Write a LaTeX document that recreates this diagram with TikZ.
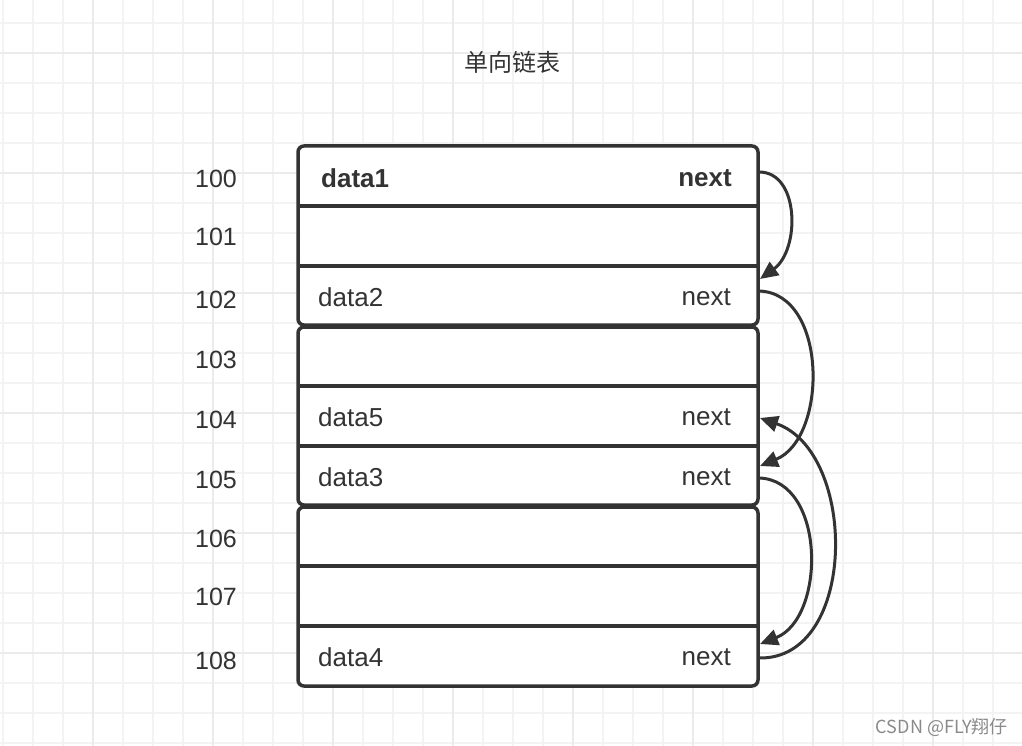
\documentclass[tikz,border=0pt]{standalone}
\usepackage{fontspec}
\setmainfont{Liberation Sans}
\newfontfamily\cjk{Noto Sans CJK SC}
\usetikzlibrary{arrows.meta,calc}
\definecolor{ink}{HTML}{333333}
\definecolor{gridminor}{HTML}{F3F3F3}
\definecolor{gridmajor}{HTML}{EBEBEB}
\definecolor{wm}{HTML}{8A8A8A}
\tikzset{
  groupbox/.style={draw=ink, line width=3.5pt, rounded corners=6pt, fill=white,
    minimum width=460pt, inner sep=0pt, outer sep=0pt},
  divider/.style={draw=ink, line width=3.5pt},
  lbl/.style={text=ink, inner sep=0pt, font=\fontsize{26}{30}\selectfont},
  addr/.style={text=ink, inner sep=0pt, font=\fontsize{25}{29}\selectfont},
  link/.style={draw=ink, line width=3pt, -{Triangle[length=18pt,width=16pt]}},
}
\begin{document}
\begin{tikzpicture}[x=1pt,y=-1pt]
\useasboundingbox (0,0) rectangle (1022,746);
\fill[white] (0,0) rectangle (1022,746);
% grid
\foreach \x in {3,33,...,1023} \draw[gridminor, line width=1.5pt] (\x,0) -- (\x,746);
\foreach \y in {23,53,...,743} \draw[gridminor, line width=1.5pt] (0,\y) -- (1022,\y);
\foreach \x in {93,213,...,1023} \draw[gridmajor, line width=1.5pt] (\x,0) -- (\x,746);
\foreach \y in {53,173,...,743} \draw[gridmajor, line width=1.5pt] (0,\y) -- (1022,\y);

% title
\node[text=ink, inner sep=0pt, font=\cjk\fontsize{24}{28}\selectfont] (title) at (512,62) {单向链表};

% groups
\node[groupbox, minimum height=179pt] (g1) at (528,235.5) {};
\node[groupbox, minimum height=178pt] (g2) at (528,416) {};
\node[groupbox, minimum height=179pt] (g3) at (528,596.5) {};

% dividers
\foreach \y in {206,266} \draw[divider] (g1.west |- 0,\y) -- (g1.east |- 0,\y);
\foreach \y in {386,446} \draw[divider] (g2.west |- 0,\y) -- (g2.east |- 0,\y);
\foreach \y in {566,626} \draw[divider] (g3.west |- 0,\y) -- (g3.east |- 0,\y);

% addresses
\node[addr] (a100) at (216,179) {100};
\node[addr] (a101) at (216,237) {101};
\node[addr] (a102) at (216,300) {102};
\node[addr] (a103) at (216,360) {103};
\node[addr] (a104) at (216,420) {104};
\node[addr] (a105) at (216,480) {105};
\node[addr] (a106) at (216,539) {106};
\node[addr] (a107) at (216,597) {107};
\node[addr] (a108) at (216,661) {108};

% data labels
\node[lbl, anchor=west] (d1) at (321,178) {\textbf{data1}};
\node[lbl, anchor=east] (n1) at (732,178) {\textbf{next}};
\node[lbl, anchor=west] (d2) at (318,297) {data2};
\node[lbl, anchor=east] (n2) at (731,297) {next};
\node[lbl, anchor=west] (d5) at (318,417) {data5};
\node[lbl, anchor=east] (n5) at (731,417) {next};
\node[lbl, anchor=west] (d3) at (318,477) {data3};
\node[lbl, anchor=east] (n3) at (731,477) {next};
\node[lbl, anchor=west] (d4) at (318,657) {data4};
\node[lbl, anchor=east] (n4) at (731,657) {next};

% ports
\coordinate (o1) at (759,172);
\coordinate (i2) at (760,279);
\coordinate (o2) at (759,291);
\coordinate (i3) at (760,466);
\coordinate (o3) at (759,478);
\coordinate (i4) at (760,644);
\coordinate (o4) at (759,658);
\coordinate (i5) at (760,418);

\draw[link] (o1) .. controls (800,172) and (800,250) .. (i2);
\draw[link] (o2) .. controls (828,293) and (828,438) .. (i3);
\draw[link] (o3) .. controls (826,480) and (826,618) .. (i4);
\draw[link] (o4) .. controls (858,660) and (858,452) .. (i5);

% watermark
\node[text=wm, inner sep=0pt, anchor=east, font=\cjk\fontsize{18}{20}\selectfont] (wmk) at (1008,727) {CSDN @FLY翔仔};
\end{tikzpicture}
\end{document}
